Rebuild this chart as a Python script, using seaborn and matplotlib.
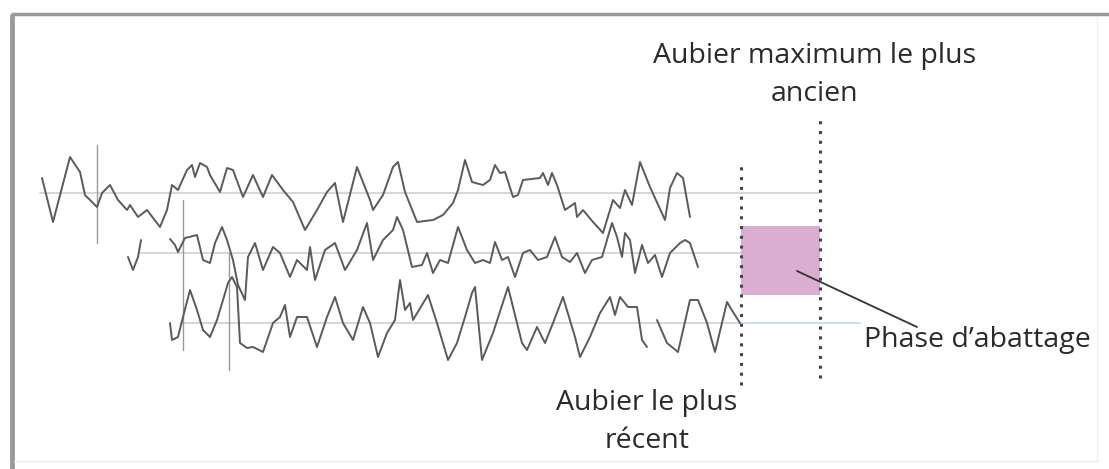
import numpy as np
import pandas as pd
import matplotlib.pyplot as plt
import seaborn as sns

# three ring-width curves (year, width relative to the mean line)
serie1 = [(42, 15), (53, -29), (70, 36), (80, 21), (85, -2), (97, -14), (102, 0), (110, 8),
          (118, -7), (127, -17), (130, -12), (138, -24), (147, -17), (160, -34), (167, -17),
          (172, 8), (178, 3), (187, 23), (192, 28), (195, 16), (200, 30), (207, 26), (210, 18),
          (220, 1), (227, 25), (233, 23), (243, -4), (253, 18), (263, -4), (272, 18), (283, 3),
          (293, -9), (305, -37), (317, -17), (327, 1), (335, 10), (343, -29), (357, 26),
          (370, -7), (373, -17), (383, -2), (393, 26), (398, 31), (405, 1), (417, -29),
          (433, -27), (443, -22), (453, -10), (458, 3), (465, 33), (472, 11), (483, 8),
          (490, 13), (495, 28), (500, 20), (505, 21), (513, -4), (518, -2), (523, 13),
          (540, 15), (543, 20), (548, 8), (552, 20), (557, 8), (565, -17), (575, -10),
          (577, -24), (583, -17), (593, -29), (603, -40), (613, -7), (620, -15), (625, 3),
          (632, -12), (640, 31), (650, 6), (665, -27), (670, 5), (677, 20), (683, 15), (690, -24)]

serie2a = [(128, -4), (133, -17), (138, -4), (141, 13)]
serie2b = [(170, 14), (175, 8), (178, 1), (185, 15), (197, 18), (203, -7), (210, -10), (215, 10),
           (222, 26), (227, 13), (233, -7), (238, -32), (245, -47), (248, -4), (255, 10),
           (263, -17), (273, 6), (280, 0), (290, -24), (297, -7), (307, -17), (310, 6),
           (315, -27), (325, 3), (335, 10), (345, -17), (357, 3), (367, 30), (373, -7),
           (383, 13), (393, 23), (397, 36), (403, 23), (412, -14), (422, -12), (427, 0),
           (433, -20), (440, -7), (448, -10), (458, 26), (467, 3), (475, -10), (483, -7),
           (490, -10), (495, 11), (502, -7), (508, -4), (515, -24), (523, 0), (530, 3),
           (538, -7), (547, -4), (555, 16), (562, -4), (570, -9), (577, 0), (585, -20),
           (592, -7), (602, -4), (607, 13), (612, 30), (617, 16), (622, -4), (625, 20),
           (630, 13), (635, -20), (642, 8), (648, -10), (655, -2), (662, -24), (670, 0),
           (680, 10), (685, 13), (690, 10), (698, -14)]

serie3a = [(170, 0), (172, -17), (178, -14), (183, 6), (190, 33), (197, 13), (203, -7),
           (210, -14), (217, 3), (223, 23), (228, 40), (232, 46), (237, 36), (240, -20),
           (247, -25), (253, -24), (263, -29), (273, 0), (280, 6), (285, 18), (290, -14),
           (297, 6), (307, 6), (317, -24), (327, 6), (335, 26), (343, 0), (353, -17),
           (363, 16), (370, 0), (378, -34), (387, -10), (395, 3), (400, 43), (405, 13),
           (410, 20), (413, 3), (428, 28), (437, 0), (448, -37), (457, -20), (465, 6),
           (472, 30), (475, 36), (482, -37), (493, -10), (508, 36), (522, -20), (527, -27),
           (537, -4), (545, -20), (553, 0), (563, 26), (575, -14), (580, -34), (590, -14),
           (600, 10), (610, 26), (615, 8), (620, 26), (628, 16), (637, 16), (642, -17),
           (647, -24)]
serie3b = [(657, 3), (667, -20), (678, -29), (690, 23), (698, 23), (707, 0), (715, -29),
           (727, 21), (733, 11), (740, 0)]

niveaux = {"serie 1": 276, "serie 2": 216, "serie 3": 146}
segments = [("serie 1", "a", serie1), ("serie 2", "a", serie2a), ("serie 2", "b", serie2b),
            ("serie 3", "a", serie3a), ("serie 3", "b", serie3b)]

# mean lines: (level, start year, end year)
moyennes = [(276, 40, 820), (216, 140, 741), (146, 180, 741)]
# pith markers: (year, bottom, top)
reperes = [(97, 226, 324), (183, 119, 269), (229, 99, 216)]

aubier_recent = 741
aubier_ancien = 820
phase_bas, phase_haut = 174, 243

rows = []
for nom, seg, pts in segments:
    for an, w in pts:
        rows.append({"serie": nom, "seg": nom + seg, "annee": an, "y": niveaux[nom] + w})
df = pd.DataFrame(rows)

sns.set_theme(style="white")
plt.rcParams['font.family'] = ['Open Sans', 'DejaVu Sans']

fig = plt.figure(figsize=(11.09, 4.69), dpi=100)
ax = fig.add_axes([0, 0, 1, 1])
ax.set_xlim(0, 1109)
ax.set_ylim(0, 469)
ax.axis("off")

for lvl, x0, x1 in moyennes:
    ax.plot([x0, x1], [lvl, lvl], color="#cfcfcf", lw=1.2, zorder=1)
ax.plot([741, 860], [146, 146], color="#cddcee", lw=1.5, zorder=1)

for x, y0, y1 in reperes:
    ax.plot([x, x], [y0, y1], color="#999999", lw=1, zorder=2)

sns.lineplot(data=df, x="annee", y="y", units="seg", estimator=None, sort=False,
             color="#5a5a5a", lw=1.4, ax=ax, legend=False, zorder=3)

ax.fill_between([aubier_recent, aubier_ancien], phase_bas, phase_haut,
                color="#d6a4cc", alpha=0.9, lw=0, zorder=2)
ax.plot([aubier_recent] * 2, [84, 307], color="#444444", lw=2.2,
        ls=(0, (1, 2.2)), zorder=4)
ax.plot([aubier_ancien] * 2, [91, 351], color="#444444", lw=2.2,
        ls=(0, (1, 2.2)), zorder=4)
ax.plot([797, 917], [198, 142], color="#333333", lw=1.3, zorder=5)

txt = dict(color="#2a2a2a", fontsize=20.5, ha="center", va="center", linespacing=1.45)
ax.text(815, 394, "Aubier maximum le plus\nancien", **txt)
ax.text(647, 47, "Aubier le plus\nrécent", **txt)
ax.text(977, 129, "Phase d\u2019abattage", **txt)

# frame
ax.plot([12, 12], [0, 455], color="#9a9a9a", lw=3.5, solid_capstyle="butt")
ax.plot([11, 1109], [455, 455], color="#9a9a9a", lw=2.5, solid_capstyle="butt")
ax.plot([14, 1098], [8, 8], color="#ececec", lw=1)
ax.plot([1097, 1097], [8, 452], color="#f0f0f0", lw=1)

plt.savefig("out.png", dpi=100)
